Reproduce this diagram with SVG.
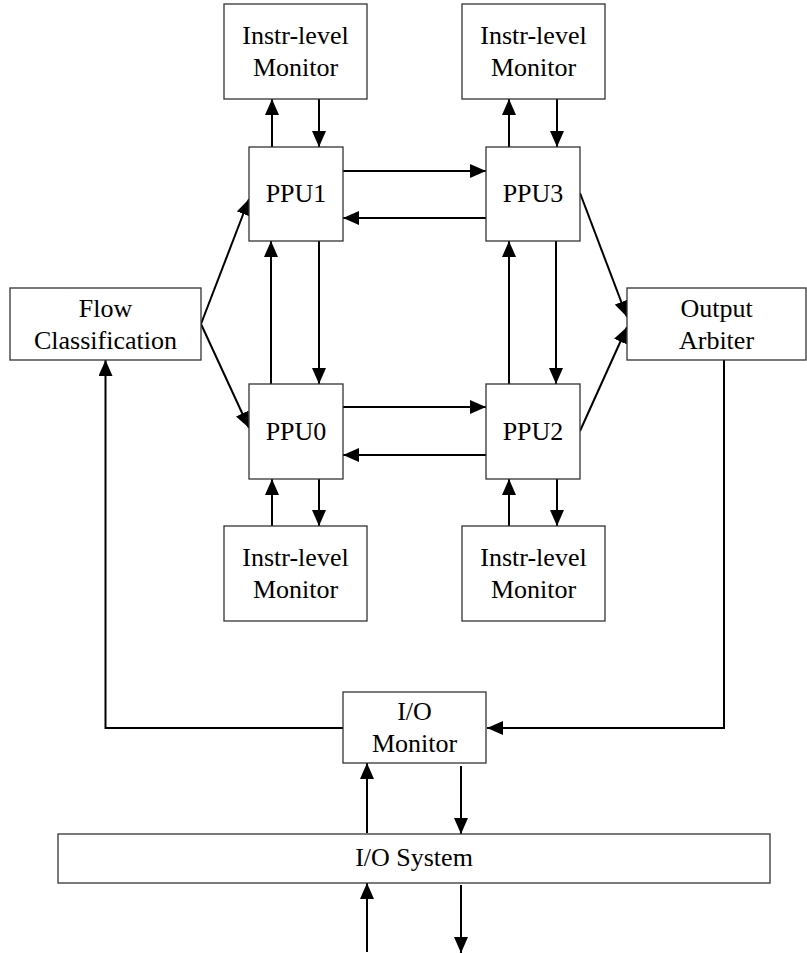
<svg xmlns="http://www.w3.org/2000/svg" width="807" height="954" viewBox="0 0 807 954">
<style>
.box{fill:#fff;stroke:#333;stroke-width:1.3}
.t{font-family:"Liberation Serif","Times New Roman",serif;font-size:26px;fill:#000;text-anchor:middle}
.c{fill:none;stroke:#000;stroke-width:2;marker-end:url(#ah)}
</style>
<defs>
<marker id="ah" markerUnits="userSpaceOnUse" markerWidth="16" markerHeight="14" refX="16" refY="7" orient="auto">
<path d="M0,0 L16,7 L0,14 z" fill="#000"/>
</marker>
</defs>
<rect width="807" height="954" fill="#fff"/>
<g id="connectors">
<line class="c" x1="272" y1="147" x2="272" y2="99"/>
<line class="c" x1="319" y1="99" x2="319" y2="147"/>
<line class="c" x1="509" y1="147" x2="509" y2="99"/>
<line class="c" x1="557" y1="99" x2="557" y2="147"/>
<line class="c" x1="343" y1="171" x2="486" y2="171"/>
<line class="c" x1="486" y1="218" x2="343" y2="218"/>
<line class="c" x1="271" y1="384" x2="271" y2="241"/>
<line class="c" x1="319" y1="241" x2="319" y2="384"/>
<line class="c" x1="509" y1="384" x2="509" y2="241"/>
<line class="c" x1="556" y1="241" x2="556" y2="384"/>
<line class="c" x1="343" y1="407" x2="486" y2="407"/>
<line class="c" x1="486" y1="455" x2="343" y2="455"/>
<line class="c" x1="272" y1="526" x2="272" y2="479"/>
<line class="c" x1="319" y1="479" x2="319" y2="526"/>
<line class="c" x1="509" y1="526" x2="509" y2="479"/>
<line class="c" x1="557" y1="479" x2="557" y2="526"/>
<line class="c" x1="201" y1="324" x2="249" y2="199"/>
<line class="c" x1="201" y1="324" x2="249" y2="428"/>
<line class="c" x1="580" y1="193" x2="627" y2="317"/>
<line class="c" x1="580" y1="431" x2="627" y2="327"/>
<polyline class="c" points="724,360 724,728 487,728"/>
<polyline class="c" points="343,728 105.5,728 105.5,360"/>
<line class="c" x1="367" y1="833" x2="367" y2="763"/>
<line class="c" x1="461" y1="766" x2="461" y2="834"/>
<line class="c" x1="367" y1="952" x2="367" y2="883"/>
<line class="c" x1="461" y1="885" x2="461" y2="953"/>
</g>
<g id="mon-tl"><rect class="box" x="224" y="4" width="143" height="95"/><text class="t" x="295.5" y="44">Instr-level</text><text class="t" x="295.5" y="76">Monitor</text></g>
<g id="mon-tr"><rect class="box" x="462" y="4" width="143" height="95"/><text class="t" x="533.5" y="44">Instr-level</text><text class="t" x="533.5" y="76">Monitor</text></g>
<g id="ppu1"><rect class="box" x="249" y="147" width="94" height="94"/><text class="t" x="296" y="202">PPU1</text></g>
<g id="ppu3"><rect class="box" x="486" y="147" width="94" height="94"/><text class="t" x="533" y="202">PPU3</text></g>
<g id="flow"><rect class="box" x="10" y="288" width="191" height="72"/><text class="t" x="105.5" y="317">Flow</text><text class="t" x="105.5" y="349">Classification</text></g>
<g id="arbiter"><rect class="box" x="627" y="288" width="179" height="72"/><text class="t" x="716.5" y="317">Output</text><text class="t" x="716.5" y="349">Arbiter</text></g>
<g id="ppu0"><rect class="box" x="249" y="384" width="94" height="95"/><text class="t" x="296" y="440">PPU0</text></g>
<g id="ppu2"><rect class="box" x="486" y="384" width="94" height="95"/><text class="t" x="533" y="440">PPU2</text></g>
<g id="mon-bl"><rect class="box" x="224" y="526" width="143" height="95"/><text class="t" x="295.5" y="566">Instr-level</text><text class="t" x="295.5" y="598">Monitor</text></g>
<g id="mon-br"><rect class="box" x="462" y="526" width="143" height="95"/><text class="t" x="533.5" y="566">Instr-level</text><text class="t" x="533.5" y="598">Monitor</text></g>
<g id="io-monitor"><rect class="box" x="343" y="692" width="143" height="71"/><text class="t" x="414.5" y="720">I/O</text><text class="t" x="414.5" y="752">Monitor</text></g>
<g id="io-system"><rect class="box" x="58" y="834" width="712" height="49"/><text class="t" x="414" y="866">I/O System</text></g>
</svg>
